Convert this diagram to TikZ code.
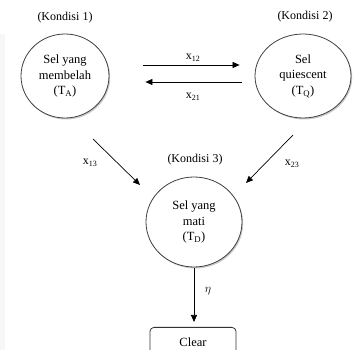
\documentclass[tikz,border=0pt]{standalone}
\usepackage{fontspec}
\setmainfont{Liberation Serif}
\usetikzlibrary{arrows.meta,shapes.geometric,shadows}
\begin{document}
\begin{tikzpicture}[x=1pt,y=-1pt,
  state/.style={ellipse,draw=black!75,line width=0.8pt,fill=white,align=center,inner sep=0pt,
    font=\fontsize{12.5}{15.5}\selectfont,
    drop shadow={shadow xshift=1.2pt,shadow yshift=-1.5pt,opacity=0.35,fill=black!60}},
  lbl/.style={font=\fontsize{12}{14}\selectfont,inner sep=0pt},
  arr/.style={-{Triangle[length=7pt,width=6pt]},line width=0.7pt},
  endbox/.style={draw=black!80,line width=0.8pt,rounded corners=4pt,minimum width=86pt,minimum height=30pt,font=\fontsize{12.5}{14}\selectfont}]
\useasboundingbox (0,0) rectangle (354,350);
\fill[black!3] (0,34) rectangle (5,350);
\node[state,minimum width=88pt,minimum height=84pt] (c1) at (65,76) {Sel yang\\membelah\\(T\textsubscript{A})};
\node[state,minimum width=96pt,minimum height=84pt] (c2) at (303,76) {Sel\\quiescent\\(T\textsubscript{Q})};
\node[state,minimum width=96pt,minimum height=90pt] (c3) at (194,222) {Sel yang\\mati\\(T\textsubscript{D})};
\node[endbox,anchor=north] (clr) at (193,327) {Clear};
\node[lbl] (k1) at (65,18) {(Kondisi 1)};
\node[lbl] (k2) at (305,17) {(Kondisi 2)};
\node[lbl] (k3) at (195,160) {(Kondisi 3)};
\draw[arr,shorten <=34pt,shorten >=15pt] ([yshift=11pt]c1.east) -- ([yshift=11pt]c2.west);
\draw[arr,shorten <=13pt,shorten >=36pt] ([yshift=-6pt]c2.west) -- ([yshift=-6pt]c1.east);
\node[lbl] (l12) at (193,58) {x\textsubscript{12}};
\node[lbl] (l21) at (193,97) {x\textsubscript{21}};
\coordinate (s13) at (93,139);
\coordinate (e13) at (140,185);
\coordinate (s23) at (293,135);
\coordinate (e23) at (246,183);
\draw[arr] (s13) -- (e13);
\draw[arr] (s23) -- (e23);
\node[lbl] (l13) at (90,163) {x\textsubscript{13}};
\node[lbl] (l23) at (292,164) {x\textsubscript{23}};
\draw[arr,shorten <=1pt,shorten >=5pt] (c3.south) -- (c3.south |- clr.north);
\node[lbl,font=\fontsize{13}{15}\selectfont] (leta) at (208,291) {$\eta$};
\end{tikzpicture}
\end{document}
